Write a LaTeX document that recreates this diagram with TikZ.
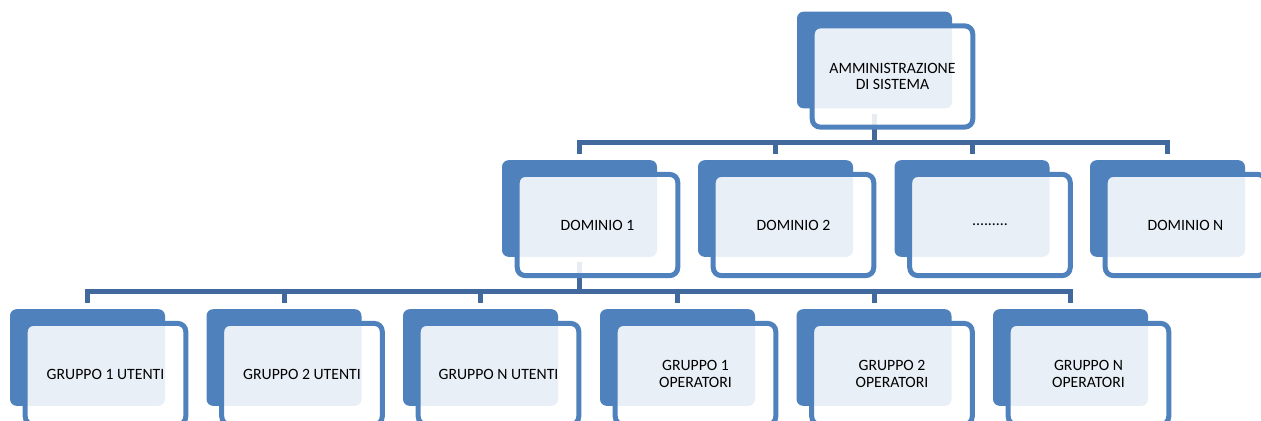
\documentclass[tikz,border=0pt]{standalone}
\usepackage{fontspec}
\setmainfont{Carlito}
\usetikzlibrary{calc, backgrounds}
\definecolor{boxblue}{HTML}{4F81BD}
\definecolor{linkblue}{HTML}{41699D}

\tikzset{
	back/.style={fill=boxblue, rounded corners=5pt, minimum width=116.25pt, minimum height=72.5pt, inner sep=0pt},
	frame/.style={draw=boxblue, line width=3.75pt, fill=white, fill opacity=0.875, draw opacity=1, rounded corners=6pt},
	caption/.style={font=\fontsize{11.8}{12.5}\selectfont, align=center, inner sep=0pt, text=black},
	link/.style={draw=linkblue, line width=3.75pt},
}

\newcommand{\orgunit}[4]{%
	\node[back] (#1) at (#2,#3) {};
	\draw[frame] ($(#1.north west)+(15.5,14.5)$) rectangle ($(#1.south east)+(20.5,18.5)$);
	\node[caption] (#1-t) at ($(#1.center)+(18,16.5)$) {#4};
}

\begin{document}
\begin{tikzpicture}[x=0.75pt, y=-0.75pt]
		\useasboundingbox (0,0) rectangle (1261,421);
		\clip (0,0) rectangle (1261,421);
		
		\orgunit{admin}{874.5}{60}{AMMINISTRAZIONE\\DI SISTEMA}
		
		\orgunit{dom1}{579.5}{208.5}{DOMINIO 1}
		\orgunit{dom2}{775.5}{208.5}{DOMINIO 2}
		\orgunit{dom3}{972}{208.5}{.........}
		\orgunit{domn}{1167.5}{208.5}{DOMINIO N}
		
		\orgunit{gu1}{87.5}{357.5}{GRUPPO 1 UTENTI}
		\orgunit{gu2}{284}{357.5}{GRUPPO 2 UTENTI}
		\orgunit{gun}{480.5}{357.5}{GRUPPO N UTENTI}
		\orgunit{go1}{677.5}{357.5}{GRUPPO 1\\OPERATORI}
		\orgunit{go2}{874}{357.5}{GRUPPO 2\\OPERATORI}
		\orgunit{gon}{1070.5}{357.5}{GRUPPO N\\OPERATORI}
		
		\coordinate (bus1) at (0,142.5);
		\coordinate (bus2) at (0,291);
		\begin{scope}[on background layer]
		\foreach \dom in {dom1,dom2,dom3,domn}
			\draw[link] ($(admin.south)+(0,5)$) -- (admin.south |- bus1) -| ($(\dom.north)+(0,-6)$);
		\foreach \grp in {gu1,gu2,gun,go1,go2,gon}
			\draw[link] ($(dom1.south)+(0,5)$) -- (dom1.south |- bus2) -| ($(\grp.north)+(0,-6)$);
		\end{scope}
\end{tikzpicture}
\end{document}
